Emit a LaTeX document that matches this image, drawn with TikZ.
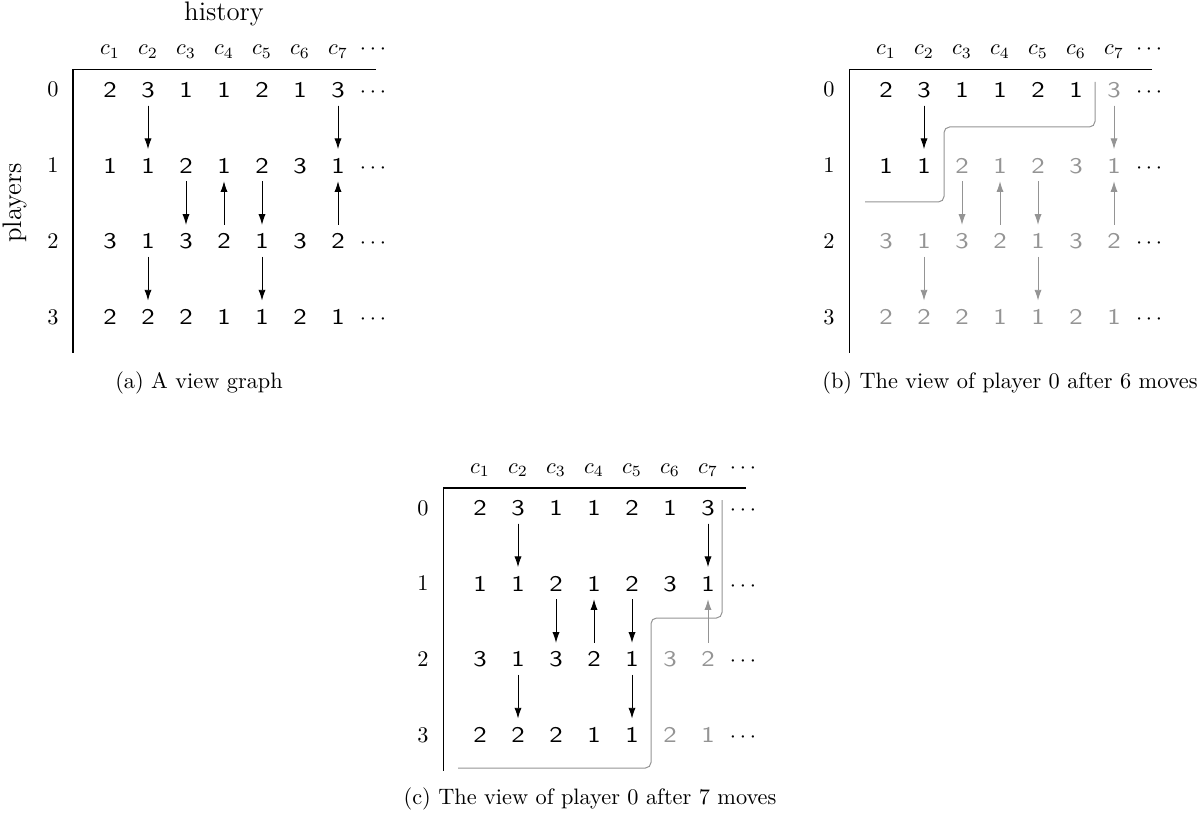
\documentclass[tikz,border=0pt]{standalone}
\usepackage{fontspec}
\newfontfamily\digitfont[FakeStretch=1.2]{lmsans10-regular.otf}
\usetikzlibrary{arrows.meta}
\definecolor{fade}{gray}{0.58}
\tikzset{
  digit/.style={font=\digitfont, inner xsep=0pt, inner ysep=3.5pt, text height=7pt, text depth=0pt},
  hdr/.style={anchor=base, inner sep=0pt},
  rowlab/.style={anchor=base, inner sep=0pt},
  axisline/.style={line width=0.45pt},
  link/.style={-{Latex[length=4.8pt,width=3.2pt]}, line width=0.4pt},
  viewline/.style={draw=fade, rounded corners=2.5pt, line width=0.45pt},
  capt/.style={anchor=base, inner sep=0pt},
  biglab/.style={anchor=base, inner sep=0pt, font=\large}
}
\newcommand\viewpanel[4]{%
\begin{scope}[shift={(#2,#3)}]
  \draw[axisline] (376,70) -- (73,70) -- (73,353);
  \foreach \c in {1,...,7} \node[hdr] (#1-h\c) at ({110+38*(\c-1)},55) {$c_{\c}$};
  \node[hdr] (#1-hd) at (373,55) {$\cdots$};
  \foreach \r/\vals in {0/{2,3,1,1,2,1,3},1/{1,1,2,1,2,3,1},2/{3,1,3,2,1,3,2},3/{2,2,2,1,1,2,1}}{
    \pgfmathtruncatemacro\mylim{{#4}[\r]}
    \node[rowlab] (#1-l\r) at (53,{97+75.7*\r}) {$\r$};
    \node[digit] (#1-d\r) at (373,{89.5+75.7*\r}) {$\cdots$};
    \foreach \v [count=\c] in \vals {
      \ifnum\c>\mylim\relax \def\dcol{fade}\else\def\dcol{black}\fi
      \node[digit,text=\dcol] (#1-\r-\c) at ({110+38*(\c-1)},{89.5+75.7*\r}) {\v};
    }
  }
  \foreach \c/\f/\t in {2/0/1,2/2/3,3/1/2,4/2/1,5/1/2,5/2/3,7/0/1,7/2/1}{
    \pgfmathtruncatemacro\la{{#4}[\f]}
    \pgfmathtruncatemacro\lb{{#4}[\t]}
    \ifnum\c>\la\relax \def\acol{fade}\else\ifnum\c>\lb\relax \def\acol{fade}\else\def\acol{black}\fi\fi
    \draw[link,draw=\acol,fill=\acol] (#1-\f-\c) -- (#1-\t-\c);
  }
\end{scope}}

\begin{document}
\begin{tikzpicture}[x=0.448pt,y=-0.448pt]
\useasboundingbox (0,0) rectangle (1199,818);
% panel (a)
\viewpanel{a}{0}{0}{7,7,7,7}
\node[biglab] (hist) at (224,21) {history};
\node[biglab,rotate=90] (play) at (22,203) {players};
\node[capt] (capa) at (199,389) {(a) A view graph};
% panel (b)
\viewpanel{b}{776}{0}{6,2,0,0}
\begin{scope}[shift={(776,0)}]
  \draw[viewline] (319,82) -- (319,127) -- (168,127) -- (168,202) -- (89,202);
\end{scope}
\node[capt] (capb) at (1010,389) {(b) The view of player 0 after 6 moves};
% panel (c)
\viewpanel{c}{370}{418}{7,7,5,5}
\begin{scope}[shift={(370,418)}]
  \draw[viewline] (352,82) -- (352,200) -- (281,200) -- (281,350) -- (88,350);
\end{scope}
\node[capt] (capc) at (590,804) {(c) The view of player 0 after 7 moves};
\end{tikzpicture}
\end{document}
